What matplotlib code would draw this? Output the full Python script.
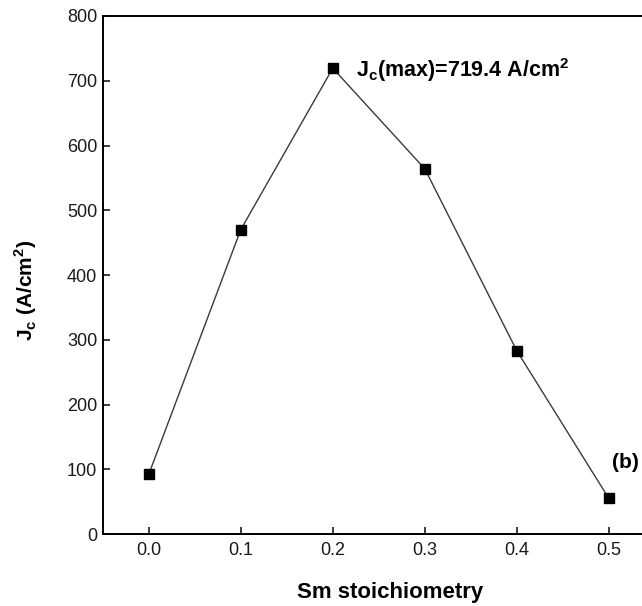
import numpy as np
import matplotlib
matplotlib.use('Agg')
import matplotlib.pyplot as plt

plt.rcParams['font.family'] = ['Liberation Sans', 'DejaVu Sans']
plt.rcParams['mathtext.fontset'] = 'custom'
plt.rcParams['mathtext.rm'] = 'Liberation Sans:bold'
plt.rcParams['mathtext.bf'] = 'Liberation Sans:bold'

# data
sm = [0.0, 0.1, 0.2, 0.3, 0.4, 0.5]
jc = [92, 470, 719.4, 564, 283, 55]
xticks = [0.0, 0.1, 0.2, 0.3, 0.4, 0.5]
yticks = [0, 100, 200, 300, 400, 500, 600, 700, 800]

fig = plt.figure(figsize=(6.42, 6.06), dpi=100)
# axes runs a bit past the right edge (cropped figure)
ax = fig.add_axes([0.16, 0.1188, 0.86, 0.8548])

ax.plot(sm, jc, color='#3a3a3a', lw=1.0, marker='s', ms=6.5,
        mfc='black', mec='black')

ax.set_xlim(-0.05, 0.55)
ax.set_ylim(0, 800)
ax.set_xticks(xticks)
ax.set_xticklabels(['%.1f' % v for v in xticks])
ax.set_yticks(yticks)
ax.tick_params(direction='in', length=5, width=1.2, labelsize=13,
               colors='#1a1a1a')
ax.tick_params(axis='x', pad=6)
ax.tick_params(axis='y', pad=4)
for s in ax.spines.values():
    s.set_linewidth(1.4)
ax.spines['right'].set_visible(False)

ax.set_xlabel('Sm stoichiometry', fontsize=16, fontweight='bold')
ax.xaxis.set_label_coords(0.52, -0.092)
ax.set_ylabel(r'J$_\mathregular{c}$ (A/cm$^\mathregular{2}$)', fontsize=15,
              fontweight='bold')
ax.yaxis.set_label_coords(-0.115, 0.47)

imax = int(np.argmax(jc))
ax.annotate(r'J$_\mathregular{c}$(max)=%.1f A/cm$^\mathregular{2}$' % jc[imax],
            xy=(sm[imax], jc[imax]), xytext=(16.5, -6.5),
            textcoords='offset points', fontsize=15.5, fontweight='bold',
            va='baseline', ha='left')

ax.text(0.503, 110, '(b)', fontsize=15, fontweight='bold', va='center',
        ha='left')

fig.savefig('out.png', dpi=100)
